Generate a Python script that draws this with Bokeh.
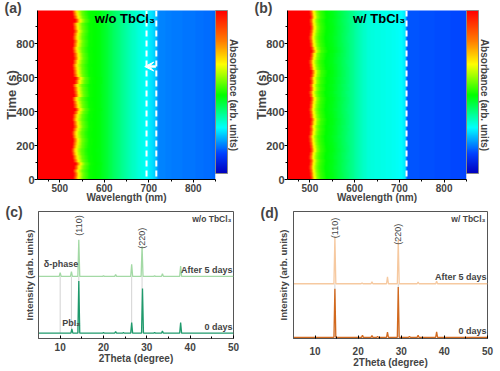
import numpy as np
from bokeh.plotting import figure
from bokeh.models import (LinearColorMapper, ColorBar, LinearAxis, Label, Span, Arrow,
                          VeeHead, Range1d, ColumnDataSource, FixedTicker, Title)
from bokeh.layouts import column, row
from bokeh.embed import file_html
from bokeh.resources import INLINE

FONT = "Liberation Sans"

# ---------------- data: in-situ absorbance maps (normalised absorbance) -------------
wl_nodes_a = [450, 528, 533, 537, 542, 550, 565, 590, 610, 630, 650, 670, 690, 700, 710, 717, 722, 760, 800, 850]
abs_a      = [1.0, 1.0, 0.85, 0.72, 0.64, 0.56, 0.49, 0.47, 0.43, 0.39, 0.35, 0.32, 0.29, 0.27, 0.25, 0.23, 0.18, 0.17, 0.165, 0.155]
wl_nodes_b = [450, 497, 502, 506, 512, 520, 535, 550, 570, 590, 610, 630, 660, 690, 705, 714, 717, 760, 850]
abs_b      = [1.0, 1.0, 0.85, 0.70, 0.60, 0.53, 0.48, 0.46, 0.42, 0.38, 0.34, 0.31, 0.30, 0.29, 0.28, 0.26, 0.14, 0.135, 0.125]
# red-edge wander (nm) for each 20 s time step, 0 s -> 980 s
edge_shift_a = [2, 3, 1, 4, 7, 2, 0, -2, -3, -1, 0, 1, -1, -2, 0, 2, 1, -1, 0, 3, 6, 2, 1, -1, 4,
                3, 2, 0, 5, 7, 2, 1, 0, -1, 1, 3, 2, 0, -1, 1, 2, 0, 1, 3, 1, 0, 6, 2, 0, -1]
edge_shift_b = [3, 2, 1, 0, 1, 2, 0, 1, 3, 2, 1, 0, -1, 1, 2, 1, 3, 4, 2, 1, 0, 1, 2, 3, 1,
                0, 2, 1, 3, 2, 4, 5, 2, 1, 0, 2, 3, 6, 4, 2, 1, 0, 1, 2, 3, 2, 1, 3, 2, 1]
time_step = 20
wl_range = [450, 850]
time_range = [0, 995]
time_ticks = [0, 200, 400, 600, 800]
wl_ticks = [500, 600, 700, 800]
dash_a = [695, 717]
dash_b = [716]
arrow_a = {"x_start": 716, "x_end": 691, "t": 665}

# ---------------- data: XRD patterns ----------------
theta_range = [5, 50]
theta_ticks = [10, 20, 30, 40, 50]
c_base_0, c_base_5 = 4.2, 48.9
c_pos_0 = [12.7, 14.3, 20.0, 22.8, 24.6, 26.5, 29.0, 31.8, 33.6, 37.8]
c_h_0   = [7.6, 45.2, 4.8, 5.4, 4.7, 12.6, 39.3, 4.6, 5.9, 12.6]
c_pos_5 = [10.0, 12.6, 14.3, 20.0, 22.8, 26.5, 28.9, 31.8, 33.6, 37.8]
c_h_5   = [51.9, 52.6, 77.8, 49.4, 50.4, 58.5, 72.6, 49.3, 51.1, 57.0]
c_guides = [10.0, 12.6, 14.3, 26.5, 28.9]

d_base_0, d_base_5 = 0.9, 43.1
d_pos_0 = [14.6, 21.0, 23.2, 24.5, 26.8, 29.3, 31.9, 33.9, 38.2]
d_h_0   = [39.2, 2.5, 2.3, 1.6, 5.1, 40.5, 1.5, 2.5, 5.3]
d_pos_5 = [14.6, 20.9, 23.2, 26.8, 29.3, 33.9, 38.2]
d_h_5   = [80.6, 43.8, 44.6, 48.5, 77.5, 44.4, 45.2]
d_guides = [14.6, 29.3]

# ---------------- styling helpers ----------------
anchors = [0.0, 0.12, 0.28, 0.48, 0.67, 0.81, 1.0]
anc_rgb = [(0, 0, 190), (0, 64, 255), (0, 255, 255), (0, 255, 0), (255, 255, 0), (255, 128, 0), (255, 0, 0)]
palette = []
for g in np.linspace(0, 1, 256):
    r = np.interp(g, anchors, [c[0] for c in anc_rgb])
    gg = np.interp(g, anchors, [c[1] for c in anc_rgb])
    b = np.interp(g, anchors, [c[2] for c in anc_rgb])
    palette.append("#%02x%02x%02x" % (int(r), int(gg), int(b)))

TOP_H = 205
BOT_H = 371 - TOP_H


def absorbance_map(nodes, vals, shifts):
    w = np.arange(wl_range[0], wl_range[1] + 1, 1.0)
    weight = np.clip((600 - w) / 50.0, 0, 1)
    return np.array([np.interp(w - s * weight, nodes, vals) for s in shifts])


def style_axes(p, size="10px"):
    for ax in (p.xaxis[0], p.yaxis[0]):
        ax.major_label_text_font = FONT
        ax.major_label_text_font_style = "bold"
        ax.major_label_text_font_size = size
        ax.axis_label_text_font = FONT
        ax.axis_label_text_font_style = "bold"
        ax.axis_label_text_font_size = size
    p.grid.visible = False


def panel_letter(p, tag, offset, standoff):
    p.add_layout(Title(text=tag, align="left", offset=offset, standoff=standoff,
                       vertical_align="bottom", text_font=FONT, text_font_style="bold",
                       text_font_size="14px"), "above")


def heat_panel(tag, title, nodes, vals, shifts, dashes, fw, rb, arrow=None):
    p = figure(width=250, height=TOP_H, output_backend="svg", toolbar_location=None,
               x_range=Range1d(*wl_range), y_range=Range1d(*time_range),
               min_border_left=37, min_border_right=rb, min_border_top=10,
               min_border_bottom=TOP_H - 180)
    mapper = LinearColorMapper(palette=palette, low=0, high=1)
    img = absorbance_map(nodes, vals, shifts)
    p.image(image=[img], x=wl_range[0], y=0, dw=wl_range[1] - wl_range[0],
            dh=len(shifts) * time_step, color_mapper=mapper)
    for d in dashes:
        p.add_layout(Span(location=d, dimension="height", line_color="white",
                          line_width=2, line_dash="6 4"))
    if arrow is not None:
        p.add_layout(Arrow(x_start=arrow["x_start"], y_start=arrow["t"], x_end=arrow["x_end"],
                           y_end=arrow["t"], line_color="white", line_width=2.5,
                           end=VeeHead(size=9, fill_color="white", line_color="white")))
    p.outline_line_color = None
    p.xaxis.axis_label = "Wavelength (nm)"
    p.yaxis.axis_label = "Time (s)"
    p.xaxis.ticker = FixedTicker(ticks=wl_ticks, minor_ticks=[475, 550, 650, 750, 850])
    p.yaxis.ticker = FixedTicker(ticks=time_ticks, minor_ticks=[100, 300, 500, 700, 900])
    for ax in (p.xaxis[0], p.yaxis[0]):
        ax.major_tick_out = 3
        ax.major_tick_in = 0
        ax.minor_tick_out = 2
        ax.minor_tick_in = 0
        ax.major_label_standoff = 0
        ax.axis_line_color = "black"
    p.xaxis.major_label_standoff = 1
    p.xaxis.axis_label_standoff = -3
    p.yaxis.axis_label_standoff = -6
    style_axes(p)
    p.yaxis.major_label_text_font_size = "11px"
    p.yaxis.axis_label_text_font_size = "13px"
    cb = ColorBar(color_mapper=mapper, width=12, height=163, padding=0, margin=2,
                  ticker=FixedTicker(ticks=[]), major_tick_line_color=None,
                  bar_line_color="#888888", border_line_color=None,
                  background_fill_alpha=0)
    p.add_layout(cb, "right")
    lab_ax = LinearAxis(axis_label="Absorbance (arb. units)", ticker=FixedTicker(ticks=[]),
                        axis_line_color=None, major_tick_line_color=None,
                        minor_tick_line_color=None, major_tick_out=0, major_tick_in=0,
                        major_label_standoff=0, axis_label_standoff=0,
                        axis_label_text_font=FONT, axis_label_text_font_style="bold",
                        axis_label_text_font_size="10px")
    p.add_layout(lab_ax, "right")
    panel_letter(p, tag, -33, -11)
    p.add_layout(Label(x=dashes[-1] - 3, y=945, text=title, text_font=FONT,
                       text_font_style="bold", text_font_size="13px",
                       text_align="right", text_baseline="middle", text_color="black"))
    return p


def xrd_curve(base, pos, height, hw=0.22):
    xs, ys = [theta_range[0]], [base]
    for x, h in sorted(zip(pos, height)):
        xs += [x - hw, x, x + hw]
        ys += [base, h, base]
    xs.append(theta_range[1])
    ys.append(base)
    return ColumnDataSource(dict(x=xs, y=ys))


def xrd_panel(tag, title, base0, pos0, h0, base5, pos5, h5, guides, col0, col5,
              lb, fw, top, bottom, tick_standoff, ylab_standoff, letter_standoff,
              peak_lbl, extra):
    p = figure(width=250, height=BOT_H, output_backend="svg", toolbar_location=None,
               x_range=Range1d(*theta_range), y_range=Range1d(0, 100),
               min_border_left=lb, min_border_right=250 - lb - fw,
               min_border_top=top, min_border_bottom=bottom)
    p.segment(x0=guides, y0=[base0] * len(guides), x1=guides, y1=[base5] * len(guides),
              line_color="#c8c8c8", line_width=0.8)
    p.line("x", "y", source=xrd_curve(base5, pos5, h5), line_color=col5, line_width=1.3)
    p.line("x", "y", source=xrd_curve(base0, pos0, h0), line_color=col0, line_width=1.3)
    p.outline_line_color = "#555555"
    p.xaxis.axis_label = "2Theta (degree)"
    p.yaxis.axis_label = "Intensity (arb. units)"
    p.xaxis.ticker = FixedTicker(ticks=theta_ticks, minor_ticks=[15, 25, 35, 45])
    p.yaxis.ticker = FixedTicker(ticks=[])
    p.xaxis.major_tick_in = 3
    p.xaxis.major_tick_out = 0
    p.xaxis.minor_tick_in = 2
    p.xaxis.minor_tick_out = 0
    p.xaxis.major_label_standoff = tick_standoff
    p.xaxis.axis_label_standoff = -1
    p.yaxis.major_tick_out = 0
    p.yaxis.major_tick_in = 0
    p.yaxis.major_label_standoff = 0
    p.yaxis.axis_label_standoff = ylab_standoff
    p.yaxis.major_tick_line_color = None
    p.yaxis.minor_tick_line_color = None
    for ax in (p.xaxis[0], p.yaxis[0]):
        ax.axis_line_color = "#555555"
    style_axes(p)
    p.yaxis.axis_label_text_font_size = "9.5px"
    (x110, y110), (x220, y220) = peak_lbl
    for x, y, t in [(x110, y110, "(110)"), (x220, y220, "(220)")]:
        p.add_layout(Label(x=x, y=y, text=t, angle=np.pi / 2, text_font=FONT,
                           text_font_size="9px", text_align="center",
                           text_baseline="middle"))
    p.add_layout(Label(x=theta_range[1], y=94, x_offset=-2, text=title, text_font=FONT,
                       text_font_style="bold", text_font_size="8.5px",
                       text_align="right", text_baseline="middle"))
    p.add_layout(Label(x=theta_range[1], y=base5 + 5, x_offset=-1, text="After 5 days",
                       text_font=FONT, text_font_style="bold", text_font_size="9px",
                       text_align="right", text_baseline="middle"))
    p.add_layout(Label(x=theta_range[1], y=base0 + 5, x_offset=-1, text="0 days",
                       text_font=FONT, text_font_style="bold", text_font_size="9px",
                       text_align="right", text_baseline="middle"))
    for x, y, t in extra:
        p.add_layout(Label(x=x, y=y, text=t, text_font=FONT, text_font_style="bold",
                           text_font_size="9px", text_align="left", text_baseline="middle"))
    panel_letter(p, tag, -33, letter_standoff)
    return p


pa = heat_panel("(a)", "w/o TbCl\u2083", wl_nodes_a, abs_a, edge_shift_a, dash_a, 178, 35, arrow_a)
pb = heat_panel("(b)", "w/ TbCl\u2083", wl_nodes_b, abs_b, edge_shift_b, dash_b, 179, 34)
pc = xrd_panel("(c)", "w/o TbCl\u2083", c_base_0, c_pos_0, c_h_0, c_base_5, c_pos_5, c_h_5,
               c_guides, "#1f9a6c", "#a3d9a5", 38, 195, 211 - TOP_H, 371 - 344, 4, 4, -17,
               [(14.3, 89), (28.9, 79)],
               [(6.2, 59, "\u03b4-phase"), (10.5, 12, "PbI\u2082")])
pd = xrd_panel("(d)", "w/ TbCl\u2083", d_base_0, d_pos_0, d_h_0, d_base_5, d_pos_5, d_h_5,
               d_guides, "#d2691e", "#f6c9a0", 43, 194, 209 - TOP_H, 371 - 338, 8, 5, -19,
               [(14.6, 87), (29.3, 82)], [])

layout = column(row(pa, pb), row(pc, pd))
open("out.html", "w").write(file_html(layout, INLINE))
